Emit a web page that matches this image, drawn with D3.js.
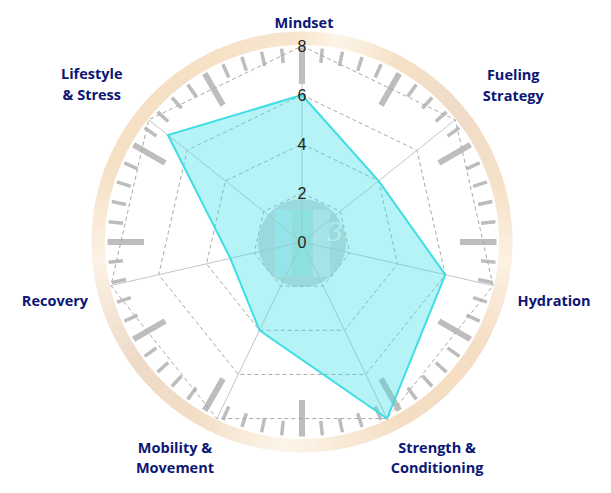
<!DOCTYPE html>
<html>
<head>
<meta charset="utf-8">
<script src="https://cdn.jsdelivr.net/npm/d3@7"></script>
<style>
  html, body { margin: 0; padding: 0; background: #ffffff; }
  svg { display: block; }
</style>
</head>
<body>
<svg id="chart" width="611" height="493"></svg>
<script>
// ---- data ----
const categories = ["Mindset", "Fueling\nStrategy", "Hydration", "Strength &\nConditioning", "Mobility &\nMovement", "Recovery", "Lifestyle\n& Stress"];
const values = [6, 4, 6, 8, 4, 3, 7];
const tickValues = [0, 2, 4, 6, 8];
const gridLevels = [2, 4, 6, 8];

// ---- layout ----
const W = 611, H = 493;
const cx = 302, cy = 242;
const maxVal = 8;
const rScale = d3.scaleLinear().domain([0, maxVal]).range([0, 196]);
const angle = d3.scaleLinear().domain([0, categories.length]).range([0, 2 * Math.PI]);
// label block centres relative to axis end (layout only)
const labelOffset = [[2, -24], [58, -35], [61, 15], [50, 39], [-42, 39], [-56, 15], [-57, -36]];

const svg = d3.select("#chart");
const g = svg.append("g").attr("transform", `translate(${cx},${cy})`);

function pt(i, r) {
  const a = angle(i);
  return [r * Math.sin(a), -r * Math.cos(a)];
}

// ---- clock face background ----
const clock = g.append("g");
const ringStops = [
  [0, "#f8e6cf"], [10, "#fdf5ea"], [28, "#f6e1c6"], [50, "#efdbc8"], [75, "#f6e2c8"],
  [95, "#fcf1e3"], [120, "#f5dfc4"], [150, "#f4ddc2"], [185, "#fdf5ea"], [212, "#f3ddc5"],
  [235, "#eedac9"], [265, "#fcf2e5"], [290, "#f6e1c6"], [325, "#f6e0c5"], [360, "#f8e6cf"]
];
const ringColor = d3.scaleLinear().domain(ringStops.map(d => d[0])).range(ringStops.map(d => d[1])).interpolate(d3.interpolateRgb);
const nSeg = 180;
const arcGen = d3.arc().innerRadius(197).outerRadius(210.5);
for (let k = 0; k < nSeg; k++) {
  const a0 = k / nSeg * 2 * Math.PI, a1 = (k + 1.2) / nSeg * 2 * Math.PI;
  clock.append("path")
    .attr("d", arcGen({startAngle: a0, endAngle: a1}))
    .attr("fill", ringColor((k + 0.5) / nSeg * 360));
}
for (let m = 0; m < 60; m++) {
  const a = m / 60 * 2 * Math.PI;
  const hour = m % 5 === 0;
  const r0 = hour ? 158 : 180, r1 = 194.5;
  clock.append("line")
    .attr("x1", r0 * Math.sin(a)).attr("y1", -r0 * Math.cos(a))
    .attr("x2", r1 * Math.sin(a)).attr("y2", -r1 * Math.cos(a))
    .attr("stroke", "#bdbdbd")
    .attr("stroke-width", hour ? 6 : 3.5);
}
// watermark logo
const logo = g.append("g");
logo.append("circle").attr("r", 44).attr("cy", 1).attr("fill", "#808080").attr("opacity", 0.33);
logo.append("rect").attr("x", -27).attr("y", -32).attr("width", 17).attr("height", 67).attr("fill", "#bff6ff").attr("opacity", 0.55);
logo.append("rect").attr("x", -9).attr("y", -32).attr("width", 18).attr("height", 67).attr("fill", "#a8ead8").attr("opacity", 0.55);
logo.append("rect").attr("x", 11).attr("y", -32).attr("width", 17).attr("height", 67).attr("fill", "#eef4f6").attr("opacity", 0.55);
logo.append("text").attr("x", 33).attr("y", -1).attr("text-anchor", "middle")
  .attr("font-family", "DejaVu Serif, serif").attr("font-style", "italic").attr("font-size", 26)
  .attr("fill", "#ffffff").attr("opacity", 0.8).text("3");

// ---- grid ----
const grid = g.append("g");
gridLevels.forEach(lv => {
  const pts = categories.map((c, i) => pt(i, rScale(lv)));
  grid.append("polygon")
    .attr("points", pts.map(p => p.join(",")).join(" "))
    .attr("fill", "none").attr("stroke", "#a9a9a9").attr("stroke-width", 1)
    .attr("stroke-dasharray", "4,3");
});
categories.forEach((c, i) => {
  const p = pt(i, rScale(maxVal));
  grid.append("line").attr("x1", 0).attr("y1", 0).attr("x2", p[0]).attr("y2", p[1])
    .attr("stroke", "#c4c4c4").attr("stroke-width", 1);
});

// ---- data polygon ----
const radial = d3.lineRadial()
  .angle((d, i) => angle(i))
  .radius(d => rScale(d))
  .curve(d3.curveLinearClosed);
g.append("path").datum(values)
  .attr("d", radial)
  .attr("fill", "rgb(64,224,232)").attr("fill-opacity", 0.38)
  .attr("stroke", "#3fdde4").attr("stroke-width", 2).attr("stroke-linejoin", "miter");

// ---- tick labels ----
g.append("g").selectAll("text").data(tickValues).join("text")
  .attr("x", 0).attr("y", d => -rScale(d))
  .attr("text-anchor", "middle").attr("dominant-baseline", "central")
  .attr("font-family", "Liberation Sans, Arial, sans-serif").attr("font-size", 16)
  .attr("fill", "#222").text(d => d);

// ---- category labels ----
const lineH = 20.5;
categories.forEach((c, i) => {
  const p = pt(i, rScale(maxVal));
  const lines = c.split("\n");
  const x = p[0] + labelOffset[i][0], y = p[1] + labelOffset[i][1];
  const t = g.append("text")
    .attr("text-anchor", "middle")
    .attr("font-family", "Open Sans, sans-serif").attr("font-weight", 700).attr("font-size", 14.5)
    .attr("fill", "#0c1674");
  lines.forEach((ln, j) => {
    t.append("tspan").attr("x", x)
      .attr("y", y + (j - (lines.length - 1) / 2) * lineH)
      .attr("dominant-baseline", "central")
      .text(ln);
  });
});
</script>
</body>
</html>
